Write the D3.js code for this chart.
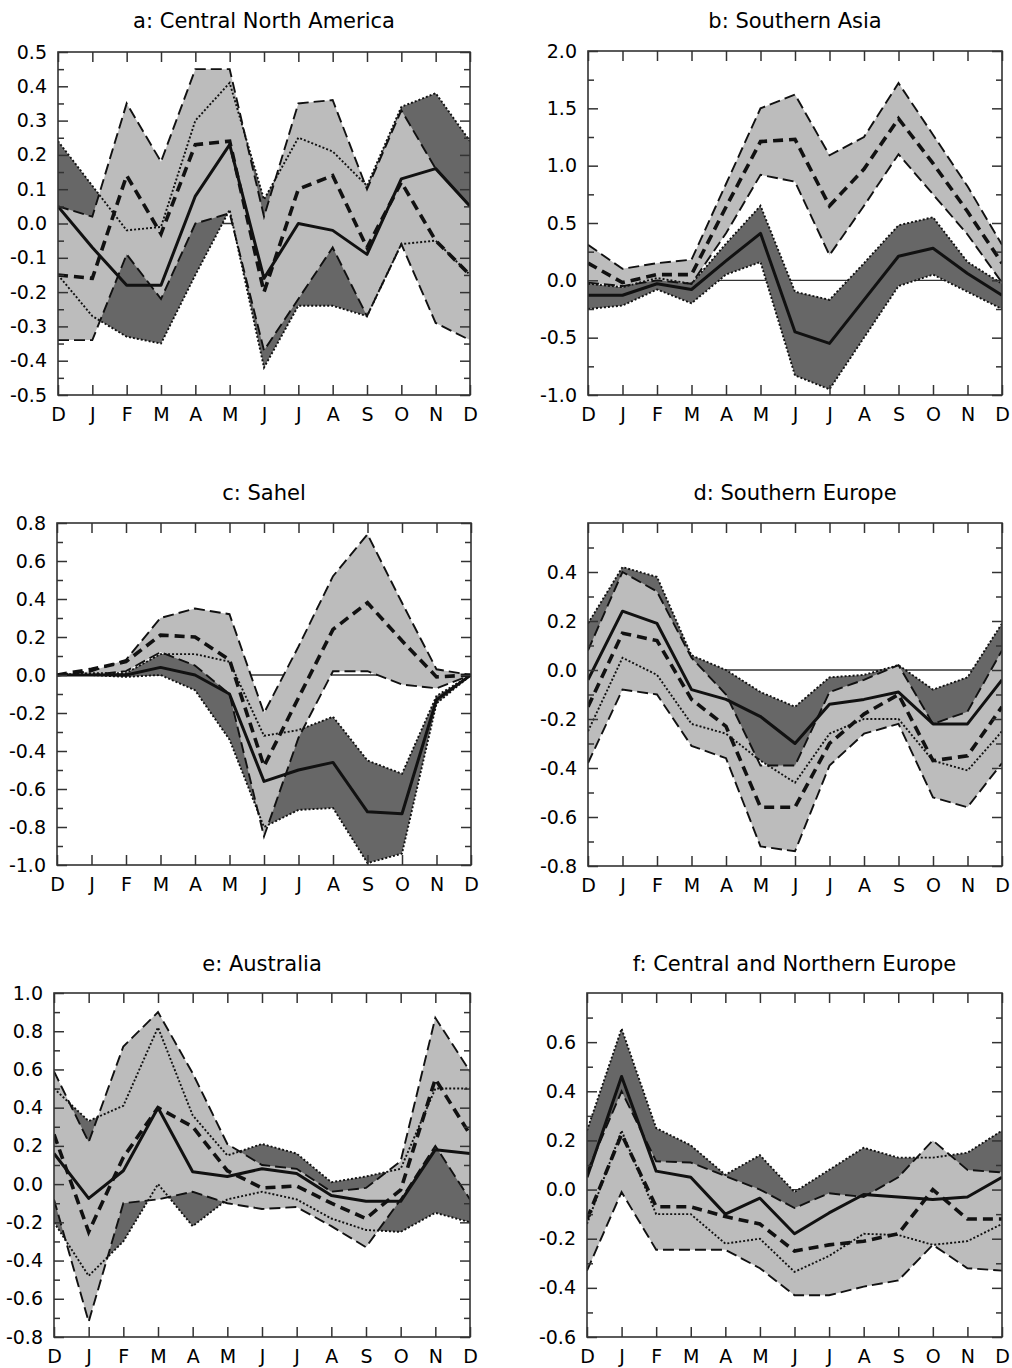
<!DOCTYPE html>
<html>
<head>
<meta charset="utf-8" />
<title>Seasonal cycle of regional changes</title>
<style>
    body { margin: 0; background: #fff; }
    text { font-family: "DejaVu Sans", sans-serif; fill: #000; }
</style>
<script src="https://cdn.jsdelivr.net/npm/d3@7/dist/d3.min.js"></script>
</head>
<body>
<script>
// month categories, Dec repeated at both ends
const months = ["D", "J", "F", "M", "A", "M", "J", "J", "A", "S", "O", "N", "D"];

// a: Central North America
const aSolid    = [0.05, -0.07, -0.18, -0.18, 0.08, 0.23, -0.16, 0.00, -0.02, -0.09, 0.13, 0.16, 0.05];
const aSolidLo  = [-0.15, -0.27, -0.33, -0.35, -0.15, 0.04, -0.42, -0.24, -0.24, -0.27, -0.06, -0.05, -0.15];
const aSolidHi  = [0.24, 0.11, -0.02, -0.01, 0.30, 0.41, 0.07, 0.25, 0.21, 0.11, 0.34, 0.38, 0.24];
const aDashed   = [-0.15, -0.16, 0.14, -0.03, 0.23, 0.24, -0.20, 0.10, 0.14, -0.07, 0.12, -0.05, -0.15];
const aDashedLo = [-0.34, -0.34, -0.09, -0.22, 0.00, 0.03, -0.37, -0.22, -0.07, -0.27, -0.06, -0.29, -0.34];
const aDashedHi = [0.05, 0.02, 0.35, 0.18, 0.45, 0.45, 0.02, 0.35, 0.36, 0.10, 0.33, 0.16, 0.05];
const aTicks    = [-0.5, -0.4, -0.3, -0.2, -0.1, 0.0, 0.1, 0.2, 0.3, 0.4, 0.5];

// b: Southern Asia
const bSolid    = [-0.13, -0.13, -0.03, -0.08, 0.17, 0.41, -0.45, -0.55, -0.17, 0.21, 0.28, 0.06, -0.13];
const bSolidLo  = [-0.25, -0.22, -0.08, -0.20, 0.05, 0.16, -0.83, -0.95, -0.50, -0.05, 0.05, -0.10, -0.25];
const bSolidHi  = [-0.03, -0.06, 0.02, -0.03, 0.32, 0.65, -0.10, -0.17, 0.15, 0.48, 0.55, 0.16, -0.03];
const bDashed   = [0.15, -0.02, 0.05, 0.05, 0.64, 1.21, 1.23, 0.65, 0.97, 1.41, 1.02, 0.60, 0.15];
const bDashedLo = [-0.02, -0.05, 0.00, -0.03, 0.41, 0.92, 0.86, 0.22, 0.65, 1.10, 0.75, 0.40, -0.02];
const bDashedHi = [0.31, 0.10, 0.15, 0.18, 0.84, 1.50, 1.62, 1.09, 1.25, 1.72, 1.27, 0.82, 0.31];
const bTicks    = [-1.0, -0.5, 0.0, 0.5, 1.0, 1.5, 2.0];

// c: Sahel
const cSolid    = [0, 0, 0, 0.04, 0.00, -0.10, -0.56, -0.50, -0.46, -0.72, -0.73, -0.13, 0];
const cSolidLo  = [0, 0, -0.01, 0.00, -0.08, -0.34, -0.80, -0.71, -0.70, -0.99, -0.94, -0.15, 0];
const cSolidHi  = [0, 0.01, 0.01, 0.11, 0.11, 0.07, -0.32, -0.29, -0.22, -0.45, -0.52, -0.11, 0];
const cDashed   = [0, 0.03, 0.07, 0.21, 0.20, 0.08, -0.48, -0.12, 0.24, 0.38, 0.18, -0.01, 0];
const cDashedLo = [0, 0, 0.02, 0.12, 0.05, -0.10, -0.85, -0.33, 0.02, 0.02, -0.05, -0.07, 0];
const cDashedHi = [0, 0.02, 0.08, 0.30, 0.35, 0.32, -0.20, 0.15, 0.52, 0.74, 0.38, 0.03, 0];
const cTicks    = [-1.0, -0.8, -0.6, -0.4, -0.2, 0.0, 0.2, 0.4, 0.6, 0.8];

// d: Southern Europe
const dSolid    = [-0.04, 0.24, 0.19, -0.08, -0.12, -0.19, -0.30, -0.14, -0.12, -0.09, -0.22, -0.22, -0.04];
const dSolidLo  = [-0.25, 0.05, -0.02, -0.22, -0.26, -0.37, -0.46, -0.26, -0.20, -0.20, -0.37, -0.41, -0.25];
const dSolidHi  = [0.19, 0.42, 0.38, 0.06, 0.00, -0.09, -0.15, -0.03, -0.02, 0.02, -0.08, -0.03, 0.19];
const dDashed   = [-0.15, 0.15, 0.12, -0.12, -0.23, -0.56, -0.56, -0.30, -0.18, -0.10, -0.37, -0.35, -0.15];
const dDashedLo = [-0.38, -0.08, -0.10, -0.31, -0.36, -0.72, -0.74, -0.39, -0.26, -0.22, -0.52, -0.56, -0.38];
const dDashedHi = [0.08, 0.40, 0.32, 0.05, -0.10, -0.39, -0.39, -0.09, -0.04, 0.02, -0.22, -0.17, 0.08];
const dTicks    = [-0.8, -0.6, -0.4, -0.2, 0.0, 0.2, 0.4];

// e: Australia
const eSolid    = [0.16, -0.075, 0.07, 0.40, 0.065, 0.04, 0.08, 0.056, -0.06, -0.09, -0.09, 0.18, 0.16];
const eSolidLo  = [-0.20, -0.48, -0.30, 0.00, -0.22, -0.08, -0.04, -0.08, -0.18, -0.24, -0.25, -0.15, -0.20];
const eSolidHi  = [0.50, 0.33, 0.41, 0.82, 0.36, 0.15, 0.21, 0.16, 0.01, 0.04, 0.08, 0.50, 0.50];
const eDashed   = [0.26, -0.25, 0.14, 0.40, 0.30, 0.07, -0.02, -0.01, -0.10, -0.18, -0.03, 0.55, 0.26];
const eDashedLo = [-0.08, -0.72, -0.10, -0.08, -0.04, -0.10, -0.13, -0.12, -0.22, -0.33, -0.08, 0.20, -0.08];
const eDashedHi = [0.59, 0.22, 0.72, 0.90, 0.58, 0.21, 0.10, 0.08, -0.04, -0.02, 0.12, 0.87, 0.59];
const eTicks    = [-0.8, -0.6, -0.4, -0.2, 0.0, 0.2, 0.4, 0.6, 0.8, 1.0];

// f: Central and Northern Europe
const fSolid    = [0.05, 0.46, 0.075, 0.05, -0.10, -0.035, -0.18, -0.095, -0.02, -0.03, -0.04, -0.03, 0.05];
const fSolidLo  = [-0.14, 0.24, -0.10, -0.10, -0.22, -0.20, -0.335, -0.27, -0.18, -0.185, -0.225, -0.21, -0.14];
const fSolidHi  = [0.24, 0.655, 0.25, 0.18, 0.06, 0.14, -0.01, 0.08, 0.17, 0.13, 0.13, 0.15, 0.24];
const fDashed   = [-0.12, 0.225, -0.07, -0.07, -0.11, -0.14, -0.25, -0.225, -0.21, -0.18, 0.00, -0.12, -0.12];
const fDashedLo = [-0.33, -0.01, -0.245, -0.245, -0.245, -0.32, -0.43, -0.43, -0.395, -0.37, -0.225, -0.32, -0.33];
const fDashedHi = [0.07, 0.40, 0.115, 0.11, 0.055, 0.00, -0.075, -0.015, -0.03, 0.05, 0.20, 0.08, 0.07];
const fTicks    = [-0.6, -0.4, -0.2, 0.0, 0.2, 0.4, 0.6];

const panels = [
    { title: "a: Central North America", solid: aSolid, solidLo: aSolidLo, solidHi: aSolidHi,
      dashed: aDashed, dashedLo: aDashedLo, dashedHi: aDashedHi, yDomain: [-0.5, 0.5], ticks: aTicks, minor: 0.05 },
    { title: "b: Southern Asia", solid: bSolid, solidLo: bSolidLo, solidHi: bSolidHi,
      dashed: bDashed, dashedLo: bDashedLo, dashedHi: bDashedHi, yDomain: [-1.0, 2.0], ticks: bTicks, minor: 0.25 },
    { title: "c: Sahel", solid: cSolid, solidLo: cSolidLo, solidHi: cSolidHi,
      dashed: cDashed, dashedLo: cDashedLo, dashedHi: cDashedHi, yDomain: [-1.0, 0.8], ticks: cTicks, minor: 0.1 },
    { title: "d: Southern Europe", solid: dSolid, solidLo: dSolidLo, solidHi: dSolidHi,
      dashed: dDashed, dashedLo: dDashedLo, dashedHi: dDashedHi, yDomain: [-0.8, 0.6], ticks: dTicks, minor: 0.1 },
    { title: "e: Australia", solid: eSolid, solidLo: eSolidLo, solidHi: eSolidHi,
      dashed: eDashed, dashedLo: eDashedLo, dashedHi: eDashedHi, yDomain: [-0.8, 1.0], ticks: eTicks, minor: 0.1 },
    { title: "f: Central and Northern Europe", solid: fSolid, solidLo: fSolidLo, solidHi: fSolidHi,
      dashed: fDashed, dashedLo: fDashedLo, dashedHi: fDashedHi, yDomain: [-0.6, 0.8], ticks: fTicks, minor: 0.1 }
];

// plot boxes on the page
const layout = [
    { left: 58,  right: 470,  top: 52,  bottom: 395,  titleY: 28 },
    { left: 588, right: 1002, top: 51,  bottom: 395,  titleY: 28 },
    { left: 57,  right: 471,  top: 523, bottom: 865,  titleY: 500 },
    { left: 588, right: 1002, top: 523, bottom: 866,  titleY: 500 },
    { left: 54,  right: 470,  top: 993, bottom: 1337, titleY: 971 },
    { left: 587, right: 1002, top: 993, bottom: 1337, titleY: 971 }
];

const darkFill = "#676767",
    lightFill = "#bcbcbc",
    ink = "#111";

const fmt = v => (Math.round(v * 10) / 10 + 0).toFixed(1);

const svg = d3.select("body")
    .append("svg")
        .attr("width", 1012)
        .attr("height", 1368);

svg.append("rect").attr("width", 1012).attr("height", 1368).attr("fill", "#fff");

panels.forEach((p, k) => {
    const L = layout[k];
    const x = d3.scaleLinear().domain([0, 12]).range([L.left, L.right]);
    const y = d3.scaleLinear().domain(p.yDomain).range([L.bottom, L.top]);
    const idx = months.map((m, i) => i);

    const g = svg.append("g");

    g.append("clipPath").attr("id", "clip" + k)
        .append("rect")
            .attr("x", L.left).attr("y", L.top)
            .attr("width", L.right - L.left).attr("height", L.bottom - L.top);

    const plot = g.append("g").attr("clip-path", "url(#clip" + k + ")");

    // zero line
    plot.append("line")
        .attr("x1", L.left).attr("x2", L.right)
        .attr("y1", y(0)).attr("y2", y(0))
        .attr("stroke", "#333").attr("stroke-width", 1.3);

    const band = (lo, hi) => d3.area()
        .x(i => x(i))
        .y0(i => y(lo[i]))
        .y1(i => y(hi[i]));
    const line = arr => d3.line()
        .x(i => x(i))
        .y(i => y(arr[i]));

    // the two spreads, the dashed one on top
    plot.append("path").datum(idx)
        .attr("d", band(p.solidLo, p.solidHi))
        .attr("fill", darkFill);
    plot.append("path").datum(idx)
        .attr("d", band(p.dashedLo, p.dashedHi))
        .attr("fill", lightFill);

    // spread edges
    [p.dashedLo, p.dashedHi].forEach(arr => {
        plot.append("path").datum(idx)
            .attr("d", line(arr))
            .attr("fill", "none").attr("stroke", ink)
            .attr("stroke-width", 1.9).attr("stroke-dasharray", "11,5");
    });
    [p.solidLo, p.solidHi].forEach(arr => {
        plot.append("path").datum(idx)
            .attr("d", line(arr))
            .attr("fill", "none").attr("stroke", ink)
            .attr("stroke-width", 1.9).attr("stroke-dasharray", "2,2");
    });

    // means
    plot.append("path").datum(idx)
        .attr("d", line(p.dashed))
        .attr("fill", "none").attr("stroke", ink)
        .attr("stroke-width", 3.6).attr("stroke-dasharray", "10,6");
    plot.append("path").datum(idx)
        .attr("d", line(p.solid))
        .attr("fill", "none").attr("stroke", ink)
        .attr("stroke-width", 3).attr("stroke-linejoin", "round");

    // minor tick positions between the labelled ones
    const eps = 1e-6;
    const minor = d3.range(p.yDomain[0], p.yDomain[1] + eps, p.minor)
        .filter(v => v > p.yDomain[0] + eps && v < p.yDomain[1] - eps)
        .filter(v => !p.ticks.some(t => Math.abs(t - v) < eps));

    const styleAxis = sel => {
        sel.select(".domain").remove();
        sel.selectAll("line").attr("stroke", "#333").attr("stroke-width", 1.5);
        sel.attr("font-family", null).attr("font-size", null);
    };

    // x axis (bottom with labels, top without)
    g.append("g")
        .attr("transform", "translate(0," + L.bottom + ")")
        .call(d3.axisBottom(x).tickValues(idx).tickSize(-10).tickPadding(12.5).tickFormat(i => months[i]))
        .call(styleAxis)
        .selectAll("text").style("font-size", "19px");
    g.append("g")
        .attr("transform", "translate(0," + L.top + ")")
        .call(d3.axisTop(x).tickValues(idx).tickSize(-10).tickFormat(""))
        .call(styleAxis);

    // y axis, labelled on the left, ticks on both sides
    g.append("g")
        .attr("transform", "translate(" + L.left + ",0)")
        .call(d3.axisLeft(y).tickValues(p.ticks).tickSize(-10).tickPadding(11).tickFormat(fmt))
        .call(styleAxis)
        .selectAll("text").style("font-size", "19px");
    g.append("g")
        .attr("transform", "translate(" + L.left + ",0)")
        .call(d3.axisLeft(y).tickValues(minor).tickSize(-6).tickFormat(""))
        .call(styleAxis);
    g.append("g")
        .attr("transform", "translate(" + L.right + ",0)")
        .call(d3.axisRight(y).tickValues(p.ticks).tickSize(-10).tickFormat(""))
        .call(styleAxis);
    g.append("g")
        .attr("transform", "translate(" + L.right + ",0)")
        .call(d3.axisRight(y).tickValues(minor).tickSize(-6).tickFormat(""))
        .call(styleAxis);

    // frame
    g.append("rect")
        .attr("x", L.left).attr("y", L.top)
        .attr("width", L.right - L.left).attr("height", L.bottom - L.top)
        .attr("fill", "none").attr("stroke", "#333").attr("stroke-width", 1.6);

    // title
    g.append("text")
        .attr("x", (L.left + L.right) / 2)
        .attr("y", L.titleY)
        .attr("text-anchor", "middle")
        .style("font-size", "21px")
        .text(p.title);
});
</script>
</body>
</html>
